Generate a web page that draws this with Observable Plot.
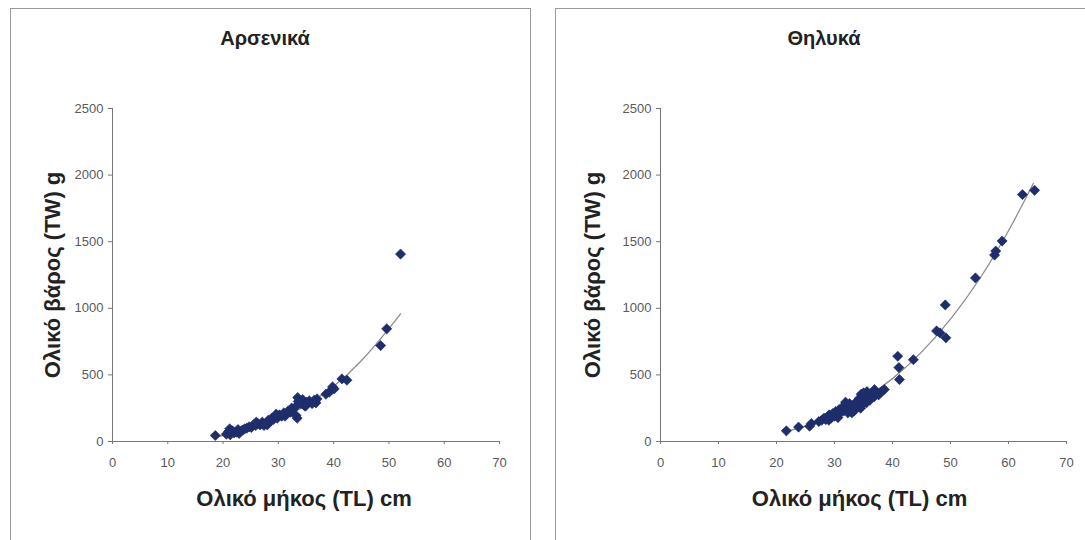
<!DOCTYPE html>
<html><head><meta charset="utf-8">
<script src="https://cdn.jsdelivr.net/npm/d3@7"></script>
<script src="https://cdn.jsdelivr.net/npm/@observablehq/plot@0.6"></script>
<style>
body{margin:0;background:#fff;width:1085px;height:540px;overflow:hidden;position:relative;font-family:"Liberation Sans",Arial,sans-serif;}
.panel{position:absolute;top:8px;height:545px;border:1px solid #9a9a9a;box-sizing:border-box;}
.title{position:absolute;top:27px;width:200px;margin-left:-100px;font-size:20px;font-weight:bold;color:#222;text-align:center;}
.chart{position:absolute;top:8px;}
</style></head><body>
<div class="panel" style="left:10px;width:521px"></div>
<div class="panel" style="left:555px;width:531px"></div>
<div class="title" id="t1" style="left:265px"></div>
<div class="title" id="t2" style="left:824px"></div>
<div class="chart" id="c1" style="left:10px"></div>
<div class="chart" id="c2" style="left:555px"></div>
<script>
const titles = ["Αρσενικά", "Θηλυκά"];
const xLabel = "Ολικό μήκος (TL) cm";
const yLabel = "Ολικό βάρος (TW) g";
const xTicks = [0, 10, 20, 30, 40, 50, 60, 70];
const yTicks = [0, 500, 1000, 1500, 2000, 2500];

const maleTL = [18.6,20.6,21.0,21.3,21.7,22.0,22.4,22.7,23.1,23.5,23.9,24.3,24.7,25.1,25.5,25.9,26.3,26.7,27.1,27.4,27.8,28.2,28.5,28.8,29.1,29.5,29.8,30.2,30.6,31.0,31.4,31.8,32.2,32.6,33.0,33.2,33.4,33.5,33.8,34.1,34.4,34.7,35.1,35.6,36.1,36.5,37.0,38.6,39.2,39.8,40.1,41.5,42.4,48.5,49.6,52.1,21.2,22.9,26.0,28.0,29.6,31.2,32.4,33.6,34.9,36.8];
const maleTW = [45,55,75,50,80,65,70,90,75,85,95,100,110,105,125,120,135,125,145,120,140,160,150,175,165,185,175,200,190,215,205,230,220,245,255,195,175,330,305,285,315,270,295,305,285,310,320,355,370,410,395,470,460,720,846,1407,95,60,145,125,205,190,250,300,265,290];
const maleFitTL = [18.6,20,25,30,35,40,45,50,52.1];
const maleFitTW = [36,45,92,165,271,414,606,848,958];

const femaleTL = [21.7,23.8,25.7,26.0,27.3,27.8,28.2,28.5,28.8,29.1,29.4,29.7,30.0,30.2,30.5,30.8,31.0,31.3,31.6,31.8,32.0,32.3,32.6,32.8,33.1,33.4,33.7,34.0,34.3,34.6,34.8,35.0,35.3,35.6,35.8,36.1,36.4,36.8,37.2,37.6,38.1,38.6,40.9,41.1,41.2,43.6,47.6,48.2,49.1,49.2,54.3,57.6,57.8,58.9,62.4,64.5,29.0,30.6,31.9,33.0,34.5,35.5,36.9];
const femaleTW = [80,108,115,135,150,160,175,165,185,200,175,210,190,225,205,240,215,255,230,270,250,215,285,240,265,230,295,260,325,355,280,365,300,375,330,310,345,335,360,350,375,390,640,555,465,614,830,815,1025,778,1228,1400,1430,1505,1854,1886,160,180,295,215,250,290,390];
const femaleFitTL = [21.7,25,30,35,40,45,50,55,60,64.3];
const femaleFitTW = [76,116,200,317,472,671,919,1220,1582,1939];

function zip(a, b) { return a.map((v, i) => ({x: v, y: b[i]})); }

function makeChart(pts, fit, o) {
  return Plot.plot({
    width: o.width, height: 532,
    marginTop: 100, marginBottom: 99, marginLeft: o.ml, marginRight: o.mr,
    style: {fontFamily: '"Liberation Sans", Arial, sans-serif', background: "transparent"},
    x: {domain: [0, 70], ticks: xTicks},
    y: {domain: [0, 2500], ticks: yTicks},
    marks: [
      Plot.axisX({ticks: xTicks, tickFormat: d => String(d), tickSize: 3, tickPadding: 13, fontSize: 13, label: null, stroke: "#777", color: "#5a5a5a"}),
      Plot.axisY({ticks: yTicks, tickFormat: d => String(d), tickSize: 4, tickPadding: 5, fontSize: 13, label: null, stroke: "#777", color: "#5a5a5a"}),
      Plot.ruleY([0], {stroke: "#777"}),
      Plot.ruleX([0], {stroke: "#777"}),
      Plot.line(fit, {x: "x", y: "y", stroke: "#8c8c8c", strokeWidth: 1.3, curve: "natural"}),
      Plot.dot(pts, {x: "x", y: "y", symbol: "diamond2", r: 4.6, fill: "#1e2d6c", stroke: "#1e2d6c", strokeWidth: 0.6}),
      Plot.text([xLabel], {frameAnchor: "bottom", textAnchor: "middle", dy: 64, dx: o.xdx, text: d => d, fontSize: 22, fontWeight: "bold", fill: "#222"}),
      Plot.text([yLabel], {frameAnchor: "left", textAnchor: "middle", dx: o.ydx, rotate: -90, text: d => d, fontSize: 22, fontWeight: "bold", fill: "#222"})
    ]
  });
}

document.getElementById("t1").textContent = titles[0];
document.getElementById("t2").textContent = titles[1];
document.getElementById("c1").appendChild(makeChart(zip(maleTL, maleTW), zip(maleFitTL, maleFitTW), {width: 521, ml: 102, mr: 32, xdx: -2, ydx: -60}));
document.getElementById("c2").appendChild(makeChart(zip(femaleTL, femaleTW), zip(femaleFitTL, femaleFitTW), {width: 530, ml: 105, mr: 19, xdx: -4, ydx: -68}));
</script>
</body></html>
